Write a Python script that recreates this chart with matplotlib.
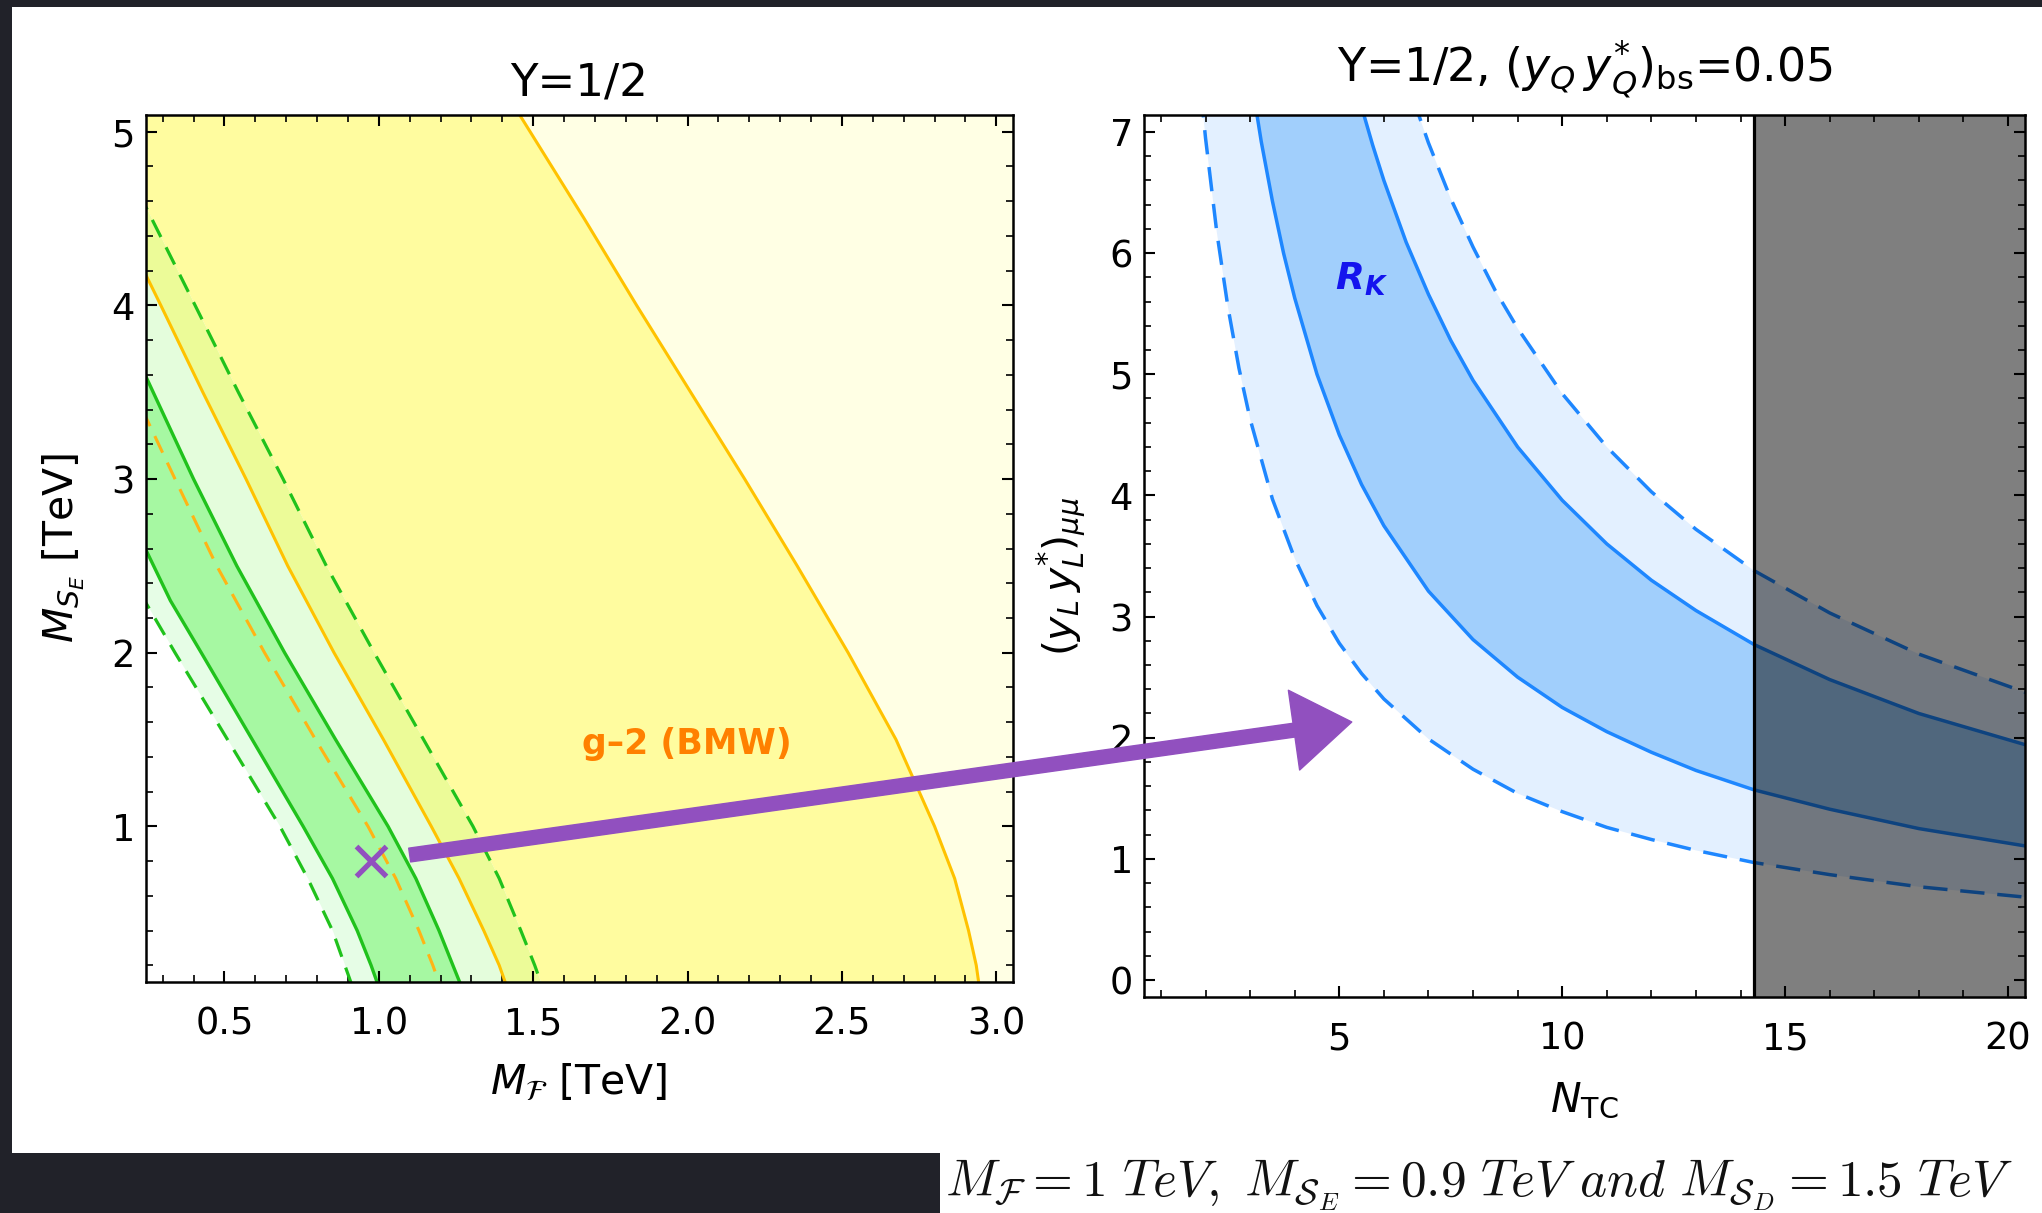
import numpy as np
import matplotlib
matplotlib.use("Agg")
import matplotlib.pyplot as plt
from matplotlib.patches import Rectangle, FancyArrowPatch
from matplotlib.ticker import MultipleLocator, FormatStrFormatter

W, H, DPI = 2042, 1213, 100

# ---------------- data: left panel (M_F [TeV] vs M_SE [TeV]) ----------------
# green dashed (2 sigma, left)
gdL_x = [0.225, 0.34, 0.51, 0.68, 0.77, 0.85, 0.89, 0.92]
gdL_y = [2.35, 2.00, 1.50, 1.00, 0.70, 0.40, 0.20, 0.05]
# green solid (1 sigma, left)
gsL_x = [0.23, 0.325, 0.425, 0.59, 0.755, 0.85, 0.93, 0.975, 1.005]
gsL_y = [2.65, 2.30, 2.00, 1.50, 1.00, 0.70, 0.40, 0.20, 0.05]
# orange dashed
od_x = [0.234, 0.34, 0.475, 0.63, 0.795, 0.965, 1.055, 1.13, 1.175, 1.205]
od_y = [3.40, 3.00, 2.50, 2.00, 1.50, 1.00, 0.70, 0.40, 0.20, 0.05]
# green solid (1 sigma, right)
gsR_x = [0.23, 0.40, 0.54, 0.695, 0.86, 1.03, 1.12, 1.195, 1.24, 1.274]
gsR_y = [3.65, 3.00, 2.50, 2.00, 1.50, 1.00, 0.70, 0.40, 0.20, 0.05]
# orange solid (g-2 band, left edge)
osL_x = [0.225, 0.294, 0.43, 0.57, 0.705, 0.855, 1.015, 1.17, 1.26, 1.34, 1.39, 1.42]
osL_y = [4.25, 4.00, 3.50, 3.00, 2.50, 2.00, 1.50, 1.00, 0.70, 0.40, 0.20, 0.05]
# green dashed (2 sigma, right)
gdR_x = [0.222, 0.405, 0.545, 0.69, 0.83, 0.985, 1.145, 1.305, 1.39, 1.46, 1.505, 1.535]
gdR_y = [4.65, 4.00, 3.50, 3.00, 2.50, 2.00, 1.50, 1.00, 0.70, 0.40, 0.20, 0.05]
# orange solid (g-2 band, right edge)
far_x = [1.42, 1.49, 1.665, 1.835, 2.01, 2.185, 2.355, 2.52, 2.675, 2.80, 2.865, 2.91, 2.935, 2.947]
far_y = [5.20, 5.00, 4.50, 4.00, 3.50, 3.00, 2.50, 2.00, 1.50, 1.00, 0.70, 0.40, 0.20, 0.05]
bench_point = (0.975, 0.80)

left_xticks = [0.5, 1.0, 1.5, 2.0, 2.5, 3.0]
left_yticks = [1, 2, 3, 4, 5]

# ---------------- data: right panel (N_TC vs (y_L y_L*)_mumu) ----------------
dl_N = [1.90, 2.0, 2.25, 2.5, 2.75, 3.0, 3.5, 4.0, 4.5, 5.0, 5.5, 6.0, 7.0, 8.0, 9.0,
        10, 11, 12, 13, 14.3, 16, 18, 20.5]
dl_y = [7.32, 6.95, 6.18, 5.56, 5.05, 4.63, 3.97, 3.48, 3.09, 2.78, 2.53, 2.32, 1.99,
        1.74, 1.54, 1.39, 1.26, 1.16, 1.07, 0.97, 0.87, 0.77, 0.68]
sl_N = [3.05, 3.25, 3.5, 3.75, 4.0, 4.5, 5.0, 5.5, 6.0, 7.0, 8.0, 9.0, 10, 11, 12, 13,
        14.3, 16, 18, 20.5]
sl_y = [7.38, 6.92, 6.43, 6.00, 5.63, 5.00, 4.50, 4.09, 3.75, 3.21, 2.81, 2.50, 2.25,
        2.05, 1.88, 1.73, 1.57, 1.41, 1.25, 1.10]
su_N = [5.45, 5.75, 6.0, 6.5, 7.0, 7.5, 8.0, 9.0, 10, 11, 12, 13, 14.3, 16, 18, 20.5]
su_y = [7.27, 6.89, 6.60, 6.09, 5.66, 5.28, 4.95, 4.40, 3.96, 3.60, 3.30, 3.05, 2.77,
        2.48, 2.20, 1.93]
du_N = [6.65, 7.0, 7.5, 8.0, 8.5, 9.0, 10, 11, 12, 13, 14.3, 16, 18, 20.5]
du_y = [7.28, 6.91, 6.45, 6.05, 5.69, 5.38, 4.84, 4.40, 4.03, 3.72, 3.38, 3.03, 2.69, 2.36]
N_excluded = 14.31

right_xticks = [5, 10, 15, 20]
right_yticks = [0, 1, 2, 3, 4, 5, 6, 7]

# ---------------- style ----------------
plt.rcParams["font.family"] = ["DejaVu Sans"]
plt.rcParams["mathtext.fontset"] = "dejavusans"

C_BG = "#212229"
C_GREEN = "#20C21C"
C_ORANGE = "#FFC200"
C_ODASH = "#FFB414"
C_PURPLE = "#9150BF"
C_BLUE = "#1E87FF"


def px2fig(x, y):
    return x / W, 1 - y / H


fig = plt.figure(figsize=(W / DPI, H / DPI), dpi=DPI, facecolor=C_BG)
# white slide panels (behind the axes)
fig.patches.append(Rectangle(px2fig(12, 1153), 2030 / W, (1153 - 7) / H,
                             transform=fig.transFigure, facecolor="white",
                             edgecolor="none", zorder=-5))
fig.patches.append(Rectangle(px2fig(940, 1213), (W - 940) / W, 60 / H,
                             transform=fig.transFigure, facecolor="white",
                             edgecolor="none", zorder=-5))

ax1 = fig.add_axes([146 / W, 1 - 982 / H, 867 / W, 867 / H])
ax2 = fig.add_axes([1144 / W, 1 - 997 / H, 881 / W, 882 / H])


def style_axes(ax):
    for s in ax.spines.values():
        s.set_linewidth(1.8)
        s.set_zorder(20)
    ax.tick_params(which="both", direction="in", top=True, right=True,
                   labeltop=False, labelright=False, zorder=20)
    ax.tick_params(which="major", length=8, width=1.5, labelsize=26.5)
    ax.tick_params(which="minor", length=5, width=1.2)
    ax.tick_params(axis="x", which="both", pad=17)
    ax.tick_params(axis="y", which="both", pad=8)


# ---------------- left panel ----------------
xlo1, xhi1, ylo1, yhi1 = 0.246, 3.054, 0.104, 5.096
ax1.set_xlim(xlo1, xhi1)
ax1.set_ylim(ylo1, yhi1)
ax1.set_facecolor("white")

yg = np.linspace(ylo1 - 0.2, yhi1 + 0.2, 800)


def xat(xs, ys):
    return np.interp(yg, ys[::-1], xs[::-1])


XgdL, XgsL, XgsR = xat(gdL_x, gdL_y), xat(gsL_x, gsL_y), xat(gsR_x, gsR_y)
XosL, XgdR, Xfar = xat(osL_x, osL_y), xat(gdR_x, gdR_y), xat(far_x, far_y)

ax1.fill_betweenx(yg, Xfar, xhi1 + 0.5, color="#FFFFE4", lw=0, zorder=1)
ax1.fill_betweenx(yg, XgdR, Xfar, color="#FFFC9F", lw=0, zorder=1)
ax1.fill_betweenx(yg, XosL, XgdR, color="#ECFB98", lw=0, zorder=1)
ax1.fill_betweenx(yg, XgsR, XosL, color="#E4FDDC", lw=0, zorder=1)
ax1.fill_betweenx(yg, XgsL, XgsR, color="#A6F8A2", lw=0, zorder=1)
ax1.fill_betweenx(yg, XgdL, XgsL, color="#E6FDE6", lw=0, zorder=1)

dash1 = (6, 3.6)
ax1.plot(gdL_x, gdL_y, color=C_GREEN, lw=2.3, dashes=dash1, zorder=3)
ax1.plot(gdR_x, gdR_y, color=C_GREEN, lw=2.3, dashes=dash1, zorder=3)
ax1.plot(gsL_x, gsL_y, color=C_GREEN, lw=2.4, zorder=3)
ax1.plot(gsR_x, gsR_y, color=C_GREEN, lw=2.4, zorder=3)
ax1.plot(od_x, od_y, color=C_ODASH, lw=2.2, dashes=dash1, zorder=3)
ax1.plot(osL_x, osL_y, color=C_ORANGE, lw=2.2, zorder=3)
ax1.plot(far_x, far_y, color=C_ORANGE, lw=2.2, zorder=3)

ax1.text(1.997, 1.475, "g\u20132 (BMW)", color="#FF8000", fontweight="bold",
         fontsize=25, ha="center", va="center", zorder=5)
ax1.plot(*bench_point, marker="x", ms=21, mew=3.8, color=C_PURPLE, zorder=6)

ax1.set_xticks(left_xticks)
ax1.set_yticks(left_yticks)
ax1.xaxis.set_major_formatter(FormatStrFormatter("%.1f"))
ax1.xaxis.set_minor_locator(MultipleLocator(0.1))
ax1.yaxis.set_minor_locator(MultipleLocator(0.2))
style_axes(ax1)

# ---------------- right panel ----------------
xlo2, xhi2, ylo2, yhi2 = 0.62, 20.38, -0.14, 7.14
ax2.set_xlim(xlo2, xhi2)
ax2.set_ylim(ylo2, yhi2)
ax2.set_facecolor("white")

ax2.fill(np.concatenate([dl_N, du_N[::-1]]), np.concatenate([dl_y, du_y[::-1]]),
         color="#E3F0FF", lw=0, zorder=1)
ax2.fill(np.concatenate([sl_N, su_N[::-1]]), np.concatenate([sl_y, su_y[::-1]]),
         color="#A1CFFC", lw=0, zorder=2)
dash2 = (7, 3.7)
ax2.plot(dl_N, dl_y, color=C_BLUE, lw=2.5, dashes=dash2, zorder=3)
ax2.plot(du_N, du_y, color=C_BLUE, lw=2.5, dashes=dash2, zorder=3)
ax2.plot(sl_N, sl_y, color=C_BLUE, lw=2.5, zorder=3)
ax2.plot(su_N, su_y, color=C_BLUE, lw=2.5, zorder=3)

ax2.axvspan(N_excluded, xhi2 + 1, color="black", alpha=0.5, lw=0, zorder=8)
ax2.axvline(N_excluded, color="black", lw=2.3, zorder=9)

ax2.text(5.49, 5.78, r"$\mathbfit{R}_{\mathbfit{K}}$", color="#1414EE",
         fontsize=27, ha="center", va="center", zorder=5)

ax2.set_xticks(right_xticks)
ax2.set_yticks(right_yticks)
ax2.xaxis.set_minor_locator(MultipleLocator(1))
ax2.yaxis.set_minor_locator(MultipleLocator(0.2))
style_axes(ax2)

# ---------------- titles and labels ----------------
fig.text(*px2fig(579, 97), "Y=1/2", ha="center", va="baseline", fontsize=32.5)
fig.text(*px2fig(1585, 81), r"Y=1/2, $(y_Q\,y_Q^{*})_{\mathrm{bs}}$=0.05",
         ha="center", va="baseline", fontsize=33)
fig.text(*px2fig(579, 1083), r"$M_{\mathcal{F}}$ [TeV]", ha="center",
         va="center", fontsize=29.5)
fig.text(*px2fig(64, 548), r"$M_{S_E}$ [TeV]", ha="center", va="center",
         rotation=90, fontsize=29.5)
fig.text(*px2fig(1584, 1100), r"$N_{\mathrm{TC}}$", ha="center", va="center",
         fontsize=29.5)
fig.text(*px2fig(1061, 576), r"$(y_L\,y_L^{*})_{\mu\mu}$", ha="center",
         va="center", rotation=90, fontsize=29.5)
formula = fig.text(*px2fig(945, 1196),
                   r"$M_{\mathcal{F}} = 1\ TeV,\ M_{\mathcal{S}_E} = 0.9\ TeV\ and\ "
                   r"M_{\mathcal{S}_D} = 1.5\ TeV$",
                   ha="left", va="baseline", fontsize=37, math_fontfamily="cm",
                   color="#111111")
# keep the formula inside the picture
renderer = fig.canvas.get_renderer()
ext = formula.get_window_extent(renderer)
if ext.x1 > W - 4:
    formula.set_fontsize(37 * (W - 4 - ext.x0) / ext.width)

# ---------------- arrow from benchmark point to right panel ----------------
pA = fig.transFigure.inverted().transform(ax1.transData.transform((1.10, 0.835)))
pB = fig.transFigure.inverted().transform(ax2.transData.transform((5.28, 2.13)))
arrow = FancyArrowPatch(pA, pB, transform=fig.transFigure,
                        arrowstyle="simple,head_length=2.1,head_width=2.9,tail_width=0.5",
                        mutation_scale=20, color=C_PURPLE, shrinkA=0, shrinkB=0,
                        zorder=30)
fig.add_artist(arrow)

fig.savefig("out.png", dpi=DPI, facecolor=C_BG)
